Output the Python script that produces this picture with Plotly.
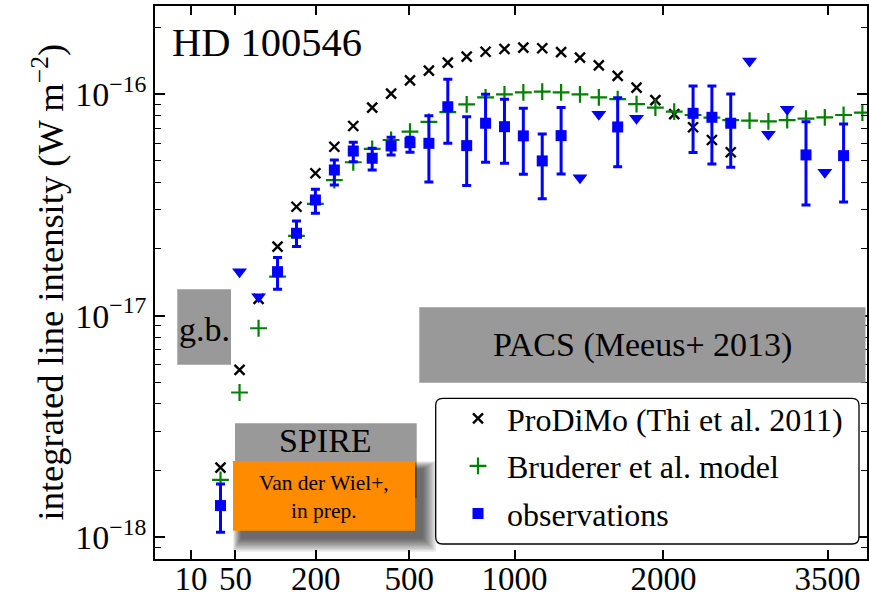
import numpy as np
import plotly.graph_objects as go

# ---------------- data ----------------
# CO rotational ladder: upper level J and upper-level energy E_up (K)
J_up = [3, 4, 5, 6, 7, 8, 9, 10, 11, 12, 13, 14, 15, 16, 17, 18, 19, 20,
        21, 22, 23, 24, 25, 26, 27, 28, 29, 30, 31, 32, 33, 34, 35, 36, 37]
E_up = [33.2, 55.3, 83.0, 116.2, 154.9, 199.1, 248.9, 304.2, 365.0, 431.3,
        503.1, 580.5, 663.4, 751.7, 845.6, 945.0, 1049.8, 1160.2, 1276.1,
        1397.4, 1524.2, 1656.5, 1794.2, 1937.4, 2086.1, 2240.2, 2399.8,
        2564.8, 2735.3, 2911.2, 3092.5, 3279.2, 3471.3, 3668.8, 3871.7]

# ProDiMo model (J = 3 .. 30)
prodimo_J = list(range(3, 31))
prodimo = [2.06e-18, 5.69e-18, 1.19e-17, 2.05e-17, 3.10e-17, 4.39e-17, 5.78e-17,
           7.17e-17, 8.68e-17, 1.003e-16, 1.153e-16, 1.274e-16, 1.384e-16,
           1.473e-16, 1.551e-16, 1.596e-16, 1.618e-16, 1.608e-16, 1.546e-16,
           1.458e-16, 1.347e-16, 1.206e-16, 1.068e-16, 9.39e-17, 8.12e-17,
           7.08e-17, 6.20e-17, 5.46e-17]

# Bruderer et al. model (J = 3 .. 37)
bruderer_J = list(range(3, 38))
bruderer = [1.815e-18, 4.50e-18, 8.77e-18, 1.50e-17, 2.29e-17, 3.19e-17, 4.09e-17,
            4.92e-17, 5.65e-17, 6.20e-17, 6.76e-17, 7.48e-17, 8.29e-17, 8.98e-17,
            9.66e-17, 9.97e-17, 1.018e-16, 1.024e-16, 1.018e-16, 9.97e-17,
            9.66e-17, 9.49e-17, 9.01e-17, 8.68e-17, 8.32e-17, 8.04e-17, 7.82e-17,
            7.63e-17, 7.58e-17, 7.53e-17, 7.63e-17, 7.74e-17, 7.85e-17, 8.04e-17,
            8.24e-17]

# observations (detections) with error-bar limits
obs_J = [3, 6, 7, 8, 9, 10, 11, 12, 13, 14, 15, 16, 17, 18, 19, 20, 21, 24,
         28, 29, 30, 34, 36]
obs_val = [1.39e-18, 1.579e-17, 2.353e-17, 3.325e-17, 4.54e-17, 5.53e-17,
           5.13e-17, 5.83e-17, 6.03e-17, 5.99e-17, 8.76e-17, 5.85e-17, 7.38e-17,
           7.12e-17, 6.47e-17, 4.99e-17, 6.49e-17, 7.10e-17, 8.18e-17, 7.85e-17,
           7.38e-17, 5.31e-17, 5.27e-17]
obs_hi = [1.74e-18, 1.827e-17, 2.674e-17, 3.716e-17, 5.04e-17, 6.055e-17,
          5.69e-17, 6.38e-17, 6.38e-17, 7.98e-17, 1.165e-16, 7.90e-17, 9.97e-17,
          9.47e-17, 8.62e-17, 6.60e-17, 8.68e-17, 9.62e-17, 1.087e-16, 1.087e-16,
          1.0e-16, 7.50e-17, 7.32e-17]
obs_lo = [1.054e-18, 1.315e-17, 2.05e-17, 2.896e-17, 3.886e-17, 4.95e-17,
          4.54e-17, 5.31e-17, 5.46e-17, 4.01e-17, 5.99e-17, 3.86e-17, 4.92e-17,
          4.87e-17, 4.34e-17, 3.37e-17, 4.36e-17, 4.70e-17, 5.44e-17, 4.83e-17,
          4.67e-17, 3.16e-17, 3.26e-17]

# upper limits
ul_J = [4, 5, 22, 23, 25, 31, 32, 33, 35]
ul_val = [1.579e-17, 1.218e-17, 4.19e-17, 8.10e-17, 7.77e-17, 1.408e-16,
          6.58e-17, 8.53e-17, 4.44e-17]

# axis ticks
x_tick_E = [10, 50, 200, 500, 1000, 2000, 3500]
x_tick_text = ["10", "50", "200", "500", "1000", "2000", "3500"]
y_tick_vals = [1e-18, 1e-17, 1e-16]
y_tick_text = ["10<sup>\u221218</sup>", "10<sup>\u221217</sup>", "10<sup>\u221216</sup>"]

# ---------------- helpers ----------------
E_of = dict(zip(J_up, E_up))


def sx(Js):
    # square-root energy scale
    return np.sqrt([E_of[j] for j in Js])


L, R, T, B = 155, 867, 6, 559
W, H = R - L, B - T


def xp(px):
    return (px - L) / W


def yp(py):
    return (B - py) / H


FONT = "Liberation Serif"

fig = go.Figure()

fig.add_trace(go.Scatter(
    x=sx(prodimo_J), y=prodimo, mode="markers", name="ProDiMo (Thi et al. 2011)",
    legendgroup="a",
    marker=dict(symbol="x-thin", size=10, color="black",
                line=dict(width=2.4, color="black"))))

fig.add_trace(go.Scatter(
    x=sx(bruderer_J), y=bruderer, mode="markers", name="Bruderer et al. model",
    legendgroup="b",
    marker=dict(symbol="cross-thin", size=12, color="#008000",
                line=dict(width=2.2, color="#008000"))))

obs_val_a = np.array(obs_val)
fig.add_trace(go.Scatter(
    x=sx(obs_J), y=obs_val, mode="markers", name="observations",
    legendgroup="c",
    marker=dict(symbol="square", size=11, color="#0000ff"),
    error_y=dict(type="data", symmetric=False,
                 array=np.array(obs_hi) - obs_val_a,
                 arrayminus=obs_val_a - np.array(obs_lo),
                 color="#0000ff", thickness=3, width=4.5)))

fig.add_trace(go.Scatter(
    x=sx(ul_J), y=ul_val, mode="markers", showlegend=False,
    marker=dict(symbol="triangle-down", size=13, color="#0000ff")))

# ---------------- decorations ----------------
shapes = []
GRAY = "#999999"


def rect(x0, y0, x1, y1, **kw):
    d = dict(type="rect", xref="paper", yref="paper",
             x0=xp(x0), x1=xp(x1), y0=yp(y1), y1=yp(y0), layer="above")
    d.update(kw)
    return d


shapes.append(rect(177.3, 289.3, 231, 364.7, fillcolor=GRAY, line=dict(width=0)))
shapes.append(rect(419.3, 307.3, 865.5, 382.7, fillcolor=GRAY, line=dict(width=0)))
shapes.append(rect(235, 423.3, 416.7, 498.3, fillcolor=GRAY, line=dict(width=0)))

# soft drop shadow for the orange box (offset to lower right)
ox0, oy0, ox1, oy1 = 233, 461, 415, 530.7
for k in range(10):
    g = 13 - 1.4 * k
    shapes.append(rect(ox0 + 8 - g * 0.6, oy0 + 8 - g * 0.6, ox1 + 8 + g, oy1 + 8 + g,
                       fillcolor="black", opacity=0.08, line=dict(width=0)))
shapes.append(rect(ox0, oy0, ox1, oy1, fillcolor="#ff8c00", line=dict(width=0)))

# rounded legend frame
lx0, ly0, lx1, ly1, r = 435.7, 398.3, 859, 544, 7


def P(px, py):
    return f"{xp(px):.5f},{yp(py):.5f}"


path = (f"M {P(lx0 + r, ly0)} L {P(lx1 - r, ly0)} Q {P(lx1, ly0)} {P(lx1, ly0 + r)} "
        f"L {P(lx1, ly1 - r)} Q {P(lx1, ly1)} {P(lx1 - r, ly1)} "
        f"L {P(lx0 + r, ly1)} Q {P(lx0, ly1)} {P(lx0, ly1 - r)} "
        f"L {P(lx0, ly0 + r)} Q {P(lx0, ly0)} {P(lx0 + r, ly0)} Z")
shapes.append(dict(type="path", xref="paper", yref="paper", path=path,
                   fillcolor="white", line=dict(color="black", width=1.3),
                   layer="above"))


def ann(text, px, py, size, **kw):
    d = dict(text=text, x=xp(px), y=yp(py), xref="paper", yref="paper",
             xanchor="center", yanchor="middle", showarrow=False,
             font=dict(family=FONT, size=size, color="black"))
    d.update(kw)
    return d


annotations = [
    ann("HD 100546", 267, 43, 40.5),
    ann("g.b.", 204, 329, 34),
    ann("SPIRE", 325.5, 440, 34),
    ann("PACS (Meeus+ 2013)", 642, 345, 34),
    ann("Van der Wiel+,<br>in prep.", 324, 497, 21.5),
    ann("integrated line intensity (W m<sup>\u22122</sup>)", 47, 282.5, 36.5,
        textangle=-90),
]

minor_vals = [m * 10.0 ** e for e in (-19, -18, -17, -16) for m in range(2, 10)]

fig.update_layout(
    width=869, height=594,
    margin=dict(l=L, r=869 - R, t=T, b=594 - B, autoexpand=False),
    paper_bgcolor="white", plot_bgcolor="white",
    font=dict(family=FONT, size=33, color="black"),
    showlegend=True,
    legend=dict(x=xp(449), y=yp(391), xanchor="left", yanchor="top",
                bgcolor="rgba(0,0,0,0)", borderwidth=0, tracegroupgap=3,
                itemwidth=48,
                font=dict(family=FONT, size=32, color="black")),
    shapes=shapes, annotations=annotations,
    xaxis=dict(range=[0, 62.63], tickvals=np.sqrt(x_tick_E), ticktext=x_tick_text,
               automargin=False, ticklabelstandoff=-10,
               showgrid=False, zeroline=False, showline=True, linecolor="black",
               linewidth=1.5, mirror="ticks", ticks="inside", ticklen=9,
               tickwidth=2, tickcolor="black",
               tickfont=dict(family=FONT, size=33, color="black")),
    yaxis=dict(type="log", range=[-18.098, -15.603], tickvals=y_tick_vals,
               automargin=False,
               ticktext=y_tick_text, showgrid=False, zeroline=False, showline=True,
               linecolor="black", linewidth=1.5, mirror="ticks", ticks="inside",
               ticklen=10, tickwidth=2, tickcolor="black",
               tickfont=dict(family=FONT, size=34, color="black"),
               minor=dict(tickvals=minor_vals, ticks="inside", ticklen=6,
                          tickwidth=1.2, tickcolor="black", showgrid=False)),
)

fig.write_html("out.html")
